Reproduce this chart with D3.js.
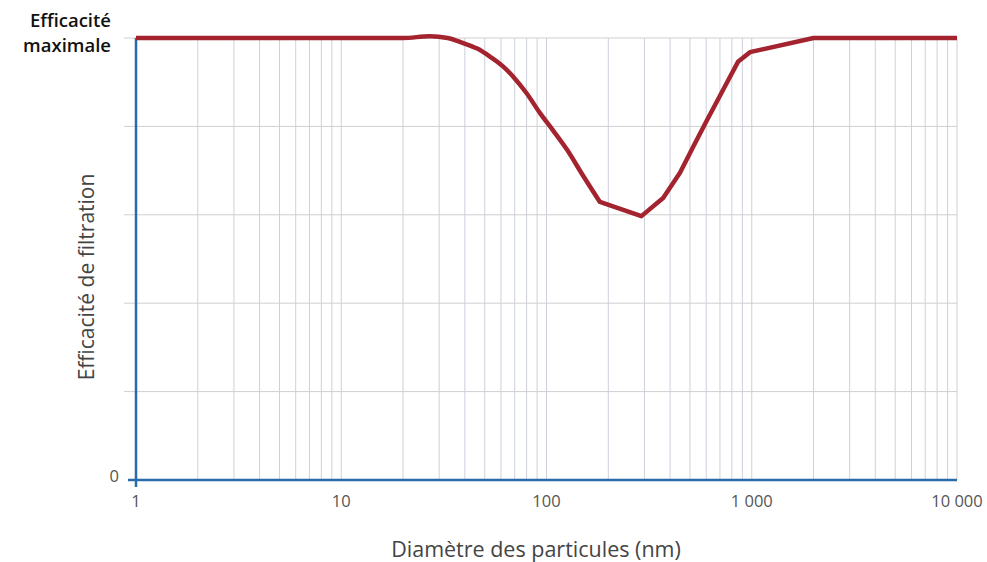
<!DOCTYPE html>
<html><head><meta charset="utf-8">
<script src="https://cdn.jsdelivr.net/npm/d3@7"></script>
<style>
html,body{margin:0;padding:0;background:#fff;}
svg{display:block;}
</style></head>
<body>
<svg id="c" width="987" height="562"></svg>
<script>
// Data
const diameters = [1, 20, 27, 33, 39, 46, 53, 61, 69, 80, 93, 108, 126, 150, 182, 290, 370, 447, 520, 605, 720, 857, 980, 2000, 10000];
const efficiency = [100, 100, 100.4, 100, 98.9, 97.6, 95.8, 93.7, 91.2, 87.5, 83, 79, 74.7, 69, 62.9, 59.7, 63.8, 69.5, 75.5, 81.4, 88, 94.6, 96.8, 100, 100];
const smoothUntil = 14; // index where the smooth part ends (182 nm)
const xTicks = [1, 10, 100, 1000, 10000];
const xTickLabels = ["1", "10", "100", "1 000", "10 000"];
const yGrid = [0, 20, 40, 60, 80, 100];
const yTickLabels = ["0"];
const xTitle = "Diamètre des particules (nm)";
const yTitle = "Efficacité de filtration";
const topLabel = ["Efficacité", "maximale"];

const svg = d3.select("#c");
const L = 136, R = 957, T = 38, B = 480;
const x = d3.scaleLog().domain([1, 10000]).range([L, R]);
const y = d3.scaleLinear().domain([0, 100]).range([B, T]);
const font = "'Open Sans', 'Noto Sans', sans-serif";

// vertical gridlines (minor log ticks)
const minor = [];
for (let d = 1; d < 10000; d *= 10) for (let k = 2; k <= 10; k++) minor.push(d * k);
svg.append("g").selectAll("line").data(minor).join("line")
  .attr("x1", d => x(d)).attr("x2", d => x(d))
  .attr("y1", T).attr("y2", B)
  .attr("stroke", "#cdd0dc").attr("stroke-width", 1);

// horizontal gridlines
svg.append("g").selectAll("line").data(yGrid.slice(1)).join("line")
  .attr("x1", L - 12).attr("x2", R)
  .attr("y1", d => y(d)).attr("y2", d => y(d))
  .attr("stroke", "#cfcfcf").attr("stroke-width", 1);

// axes
svg.append("line").attr("x1", L - 8).attr("x2", R).attr("y1", B).attr("y2", B)
  .attr("stroke", "#2b6aa8").attr("stroke-width", 2.5);
svg.append("line").attr("x1", L).attr("x2", L).attr("y1", T).attr("y2", B + 7)
  .attr("stroke", "#2b6aa8").attr("stroke-width", 2.5);

// x tick labels
svg.append("g").selectAll("text").data(xTicks).join("text")
  .attr("x", d => x(d)).attr("y", 507)
  .attr("text-anchor", "middle")
  .attr("font-family", font).attr("font-size", 16.5).attr("fill", "#555")
  .text((d, i) => xTickLabels[i]);

// y tick label
svg.append("text").attr("x", 119).attr("y", y(0) + 2)
  .attr("text-anchor", "end")
  .attr("font-family", font).attr("font-size", 16.5).attr("fill", "#555")
  .text(yTickLabels[0]);

// line: smooth part then straight segments
const pts = diameters.map((d, i) => [x(d), y(efficiency[i])]);
const smooth = d3.line().curve(d3.curveMonotoneX)(pts.slice(0, smoothUntil + 1));
const straight = d3.line().curve(d3.curveLinear)(pts.slice(smoothUntil));
svg.append("path")
  .attr("d", smooth + straight.replace(/^M/, "L"))
  .attr("fill", "none").attr("stroke", "#a3232f").attr("stroke-width", 4.5)
  .attr("stroke-linejoin", "round").attr("stroke-linecap", "butt");

// titles
svg.append("text").attr("x", 536).attr("y", 557)
  .attr("text-anchor", "middle")
  .attr("font-family", font).attr("font-size", 21.5).attr("fill", "#444")
  .text(xTitle);
svg.append("text")
  .attr("transform", "translate(94,277) rotate(-90)")
  .attr("text-anchor", "middle")
  .attr("font-family", font).attr("font-size", 21).attr("fill", "#444")
  .text(yTitle);

svg.append("text").attr("text-anchor", "end").attr("x", 111).attr("y", 27)
  .attr("font-family", font).attr("font-size", 18.5).attr("font-weight", 600).attr("fill", "#111")
  .text(topLabel[0]);
svg.append("text").attr("text-anchor", "end").attr("x", 111).attr("y", 52)
  .attr("font-family", font).attr("font-size", 18.5).attr("font-weight", 600).attr("fill", "#111")
  .text(topLabel[1]);
</script>
</body></html>
